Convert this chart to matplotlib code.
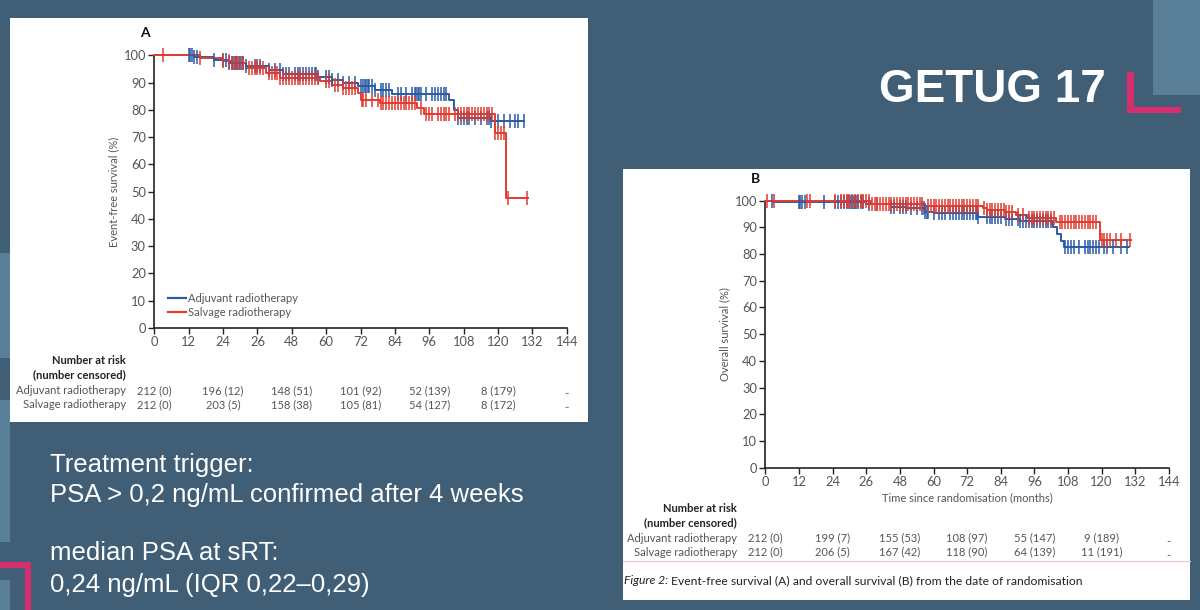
import numpy as np
import matplotlib
matplotlib.use("Agg")
import matplotlib.pyplot as plt
from matplotlib.patches import Rectangle
from matplotlib.lines import Line2D

# ---- data ----
ticks_x = [0, 12, 24, 36, 48, 60, 72, 84, 96, 108, 120, 132, 144]
ticks_x_labels = ["0", "12", "24", "26", "48", "60", "72", "84", "96", "108", "120", "132", "144"]
ticks_y = [0, 10, 20, 30, 40, 50, 60, 70, 80, 90, 100]

# panel A: event-free survival
efs_adj_t = [0, 14, 21, 26, 32, 40, 45, 57, 62, 66, 71, 77, 83, 103, 104.6, 106, 117.5, 129]
efs_adj_s = [100, 99.3, 98.4, 97.0, 96.0, 94.7, 93.2, 91.9, 91.0, 89.9, 88.6, 87.4, 85.8, 83.7, 80.1, 77.0, 75.8, 75.8]
efs_adj_cens = [12, 12.5, 13, 14, 15, 21, 24, 25, 26, 27, 27.5, 28, 28.5, 29, 29.5, 30, 30.5, 31, 32,
                35, 36, 37, 40, 42, 44, 45, 46, 47, 49, 50, 51, 52, 53, 54, 55, 56, 56.5, 57,
                60, 61, 62, 64, 66, 68, 70, 72, 73, 73.5, 74, 74.5, 75, 76, 77, 79, 80, 81, 82,
                85, 86, 88, 90, 91, 91.5, 92, 92.5, 93, 95, 97, 98, 99, 100, 101, 102,
                106, 107, 108, 109, 110, 112, 114, 116, 117, 117.5, 120, 122, 124, 126, 127, 129]
efs_sal_t = [0, 16, 24, 27, 32, 39, 44, 58, 62, 66, 71, 72.3, 78.8, 91.7, 94.3, 118.8, 122.7, 130.4]
efs_sal_s = [100, 99.0, 98.0, 97.2, 95.4, 93.5, 91.7, 90.5, 89.2, 88.0, 86.2, 83.7, 82.5, 80.7, 78.5, 71.5, 47.7, 47.7]
efs_sal_cens = [3, 16, 24, 26, 27, 28, 29, 30, 31, 33, 34, 35, 36, 37, 38, 40, 41, 42, 43, 44, 45,
                46, 47, 48, 49, 50, 51, 52, 53, 54, 55, 56, 57, 60, 61, 63, 64, 66, 67, 68, 69, 70,
                72.5, 73, 74, 76, 78, 79, 80, 81, 82, 83, 84, 85, 86, 87, 88, 89, 90, 91, 93,
                95, 96, 97, 99, 100, 101, 102, 103, 105, 106, 107, 108, 109, 110, 111, 112, 113,
                114, 115, 116, 117, 118, 119, 120, 121, 122, 123.5, 130]

# panel B: overall survival
os_adj_t = [0, 2.6, 36, 45, 50.6, 57, 60, 76, 85.6, 90.8, 102.5, 104, 105.5, 106.4, 129.7]
os_adj_s = [100, 99.4, 98.6, 97.7, 97.1, 95.9, 95.3, 94.0, 93.1, 92.4, 90.0, 87.5, 85.0, 82.8, 82.8]
os_adj_cens = [2.5, 12, 12.5, 13, 14, 21, 25, 26, 27, 28, 29, 30, 30.5, 31, 31.5, 32, 32.5, 33, 34,
               35, 37, 40, 45, 46, 48, 49, 50, 52, 54, 56, 56.5, 57, 57.5, 58, 60, 62, 63, 64, 66,
               67, 68, 69, 70, 71, 72, 73, 74, 75, 75.5, 76, 79, 80, 81, 82, 83, 84, 86, 87, 88,
               90, 91, 92, 93, 94, 95, 96, 97, 98, 99, 100, 101, 102, 107, 108, 109, 110, 112,
               114, 115, 116, 117, 118, 119, 121, 122, 124, 127, 129]
os_sal_t = [0, 37.6, 57, 77.8, 79, 85.6, 89.5, 93.4, 103.8, 119.4, 130.4]
os_sal_s = [99.8, 98.7, 98.1, 97.1, 96.5, 95.9, 94.6, 93.4, 92.1, 85.3, 85.3]
os_sal_cens = [0.5, 3, 15, 16, 25, 27, 28, 29, 30, 31, 32, 33, 34, 35, 36, 37, 38, 39, 40, 41, 42,
               43, 44, 45, 46, 47, 48, 49, 50, 51, 52, 53, 54, 55, 56, 58, 59, 60, 61, 62, 63, 64,
               65, 66, 67, 68, 69, 70, 71, 72, 73, 74, 75, 76, 78, 79, 80, 81, 82, 83, 84, 85, 86,
               87, 88, 90, 92, 94, 95, 96, 97, 98, 99, 100, 101, 102, 103, 105, 106, 107, 108,
               109, 110, 111, 112, 113, 114, 115, 116, 117, 118, 120, 121, 122, 123, 125, 127, 130]

risk_times = [0, 24, 48, 72, 96, 120, 144]
risk_a_adj = ["212 (0)", "196 (12)", "148 (51)", "101 (92)", "52 (139)", "8 (179)", ".."]
risk_a_sal = ["212 (0)", "203 (5)", "158 (38)", "105 (81)", "54 (127)", "8 (172)", ".."]
risk_b_adj = ["212 (0)", "199 (7)", "155 (53)", "108 (97)", "55 (147)", "9 (189)", ".."]
risk_b_sal = ["212 (0)", "206 (5)", "167 (42)", "118 (90)", "64 (139)", "11 (191)", ".."]

# ---- styling ----
BG = "#405E75"
LIGHT = "#5A7F98"
PINK = "#D62D6E"
BLUE = "#2B5BA6"
RED = "#E23B30"
GREY = "#555555"
FONT = "Lato"

W, H = 1200, 610
fig = plt.figure(figsize=(12, 6.1), dpi=100)
fig.patch.set_facecolor(BG)

bg = fig.add_axes([0, 0, 1, 1])
bg.set_xlim(0, W)
bg.set_ylim(H, 0)
bg.axis("off")

def rect(x0, y0, x1, y1, color, z=1, **kw):
    bg.add_patch(Rectangle((x0, y0), x1 - x0, y1 - y0, facecolor=color, edgecolor="none", zorder=z, **kw))

# decorations
rect(0, 253, 10, 358, LIGHT)
rect(0, 400, 10, 542, LIGHT)
rect(0, 580, 10, 610, LIGHT)
rect(1153, 0, 1200, 95, LIGHT)
rect(1127, 72, 1134, 113, PINK)
rect(1127, 107, 1181, 113, PINK)
rect(0, 562, 31, 568, PINK)
rect(25, 562, 31, 610, PINK)

# white panels
rect(10, 18, 588, 422, "white", z=2)
rect(623, 169, 1190, 600, "white", z=2)
bg.plot([623, 1190], [561, 561], color="#E6C4D0", lw=0.8, zorder=3)

# slide text
bg.text(879, 90, "GETUG 17", color="white", fontsize=33, fontweight="bold",
        family="Liberation Sans", va="center", ha="left", zorder=3)
for y, s in [(465, "Treatment trigger:"), (495, "PSA > 0,2 ng/mL confirmed after 4 weeks"),
             (553, "median PSA at sRT:"), (585, "0,24 ng/mL (IQR 0,22\u20130,29)")]:
    bg.text(50, y, s, color="white", fontsize=18.5, family="Liberation Sans",
            va="center", ha="left", zorder=3)


def px_axes(x0, y0, x1, y1):
    return fig.add_axes([x0 / W, 1 - y1 / H, (x1 - x0) / W, (y1 - y0) / H])


def km_panel(ax, curves, ylabel, letter):
    ax.set_facecolor("none")
    ax.set_xlim(0, 144)
    ax.set_ylim(0, 100)
    for t, s, cens, col in curves:
        t = np.asarray(t)
        s = np.asarray(s)
        ax.step(t, s, where="post", color=col, lw=1.4, clip_on=False, zorder=3)
        c = np.asarray(cens)
        idx = np.searchsorted(t, c, side="right") - 1
        ax.plot(c, s[idx], ls="none", marker="|", ms=9.5, mew=1.1, color=col,
                clip_on=False, zorder=4)
    for sp in ["top", "right"]:
        ax.spines[sp].set_visible(False)
    for sp in ["left", "bottom"]:
        ax.spines[sp].set_color("#222222")
        ax.spines[sp].set_linewidth(1.2)
    ax.set_xticks(ticks_x)
    ax.set_xticklabels(ticks_x_labels)
    ax.set_yticks(ticks_y)
    ax.tick_params(direction="out", length=4, width=1, color="#222222",
                   labelsize=9.3, labelcolor=GREY, pad=2)
    for lab in ax.get_xticklabels() + ax.get_yticklabels():
        lab.set_family(FONT)
    ax.set_ylabel(ylabel, fontsize=8, color=GREY, family=FONT, labelpad=3)
    ax.text(-0.035, 1.08, letter, transform=ax.transAxes, fontsize=10,
            color="#111111", family=FONT, fontweight="bold", ha="left", va="center")


# panel A
axA = px_axes(154.3, 55.3, 566.8, 328)
km_panel(axA, [(efs_adj_t, efs_adj_s, efs_adj_cens, BLUE),
               (efs_sal_t, efs_sal_s, efs_sal_cens, RED)],
         "Event-free survival (%)", "A")
handles = [Line2D([], [], color=BLUE, lw=1.6), Line2D([], [], color=RED, lw=1.6)]
axA.legend(handles, ["Adjuvant radiotherapy", "Salvage radiotherapy"], loc="lower left",
           bbox_to_anchor=(0.01, 0.0), frameon=False, handlelength=1.6, handletextpad=0.2,
           labelspacing=0.25, prop={"family": FONT, "size": 8}, labelcolor=GREY)

# panel B
axB = px_axes(765.4, 200.7, 1168.9, 467.7)
km_panel(axB, [(os_adj_t, os_adj_s, os_adj_cens, BLUE),
               (os_sal_t, os_sal_s, os_sal_cens, RED)],
         "Overall survival (%)", "B")
axB.set_xlabel("Time since randomisation (months)", fontsize=8, color=GREY,
               family=FONT, labelpad=3)


def risk_table(ax, label_x, y_head, y1, y2, row1, row2):
    bg.text(label_x, y_head, "Number at risk", ha="right", va="center", fontsize=8,
            family=FONT, color="#222222", fontweight="bold", zorder=3)
    bg.text(label_x, y_head + 14, "(number censored)", ha="right", va="center", fontsize=8,
            family=FONT, color="#222222", fontweight="bold", zorder=3)
    bg.text(label_x, y1, "Adjuvant radiotherapy", ha="right", va="center", fontsize=8,
            family=FONT, color=GREY, zorder=3)
    bg.text(label_x, y2, "Salvage radiotherapy", ha="right", va="center", fontsize=8,
            family=FONT, color=GREY, zorder=3)
    x0, x1 = ax.get_position().x0 * W, ax.get_position().x1 * W
    for t, a, b in zip(risk_times, row1, row2):
        xp = x0 + (x1 - x0) * t / 144
        bg.text(xp, y1, a, ha="center", va="center", fontsize=8, family=FONT, color=GREY, zorder=3)
        bg.text(xp, y2, b, ha="center", va="center", fontsize=8, family=FONT, color=GREY, zorder=3)


risk_table(axA, 126, 361, 391, 405, risk_a_adj, risk_a_sal)
risk_table(axB, 737, 509, 538, 552, risk_b_adj, risk_b_sal)

# caption
fig.canvas.draw()
cap1 = bg.text(624, 581, "Figure 2:", ha="left", va="center", fontsize=8.7, family=FONT,
               style="italic", color="#222222", zorder=3)
ext = cap1.get_window_extent(fig.canvas.get_renderer())
xd = bg.transData.inverted().transform((ext.x1, 0))[0]
bg.text(xd + 3, 581, "Event-free survival (A) and overall survival (B) from the date of randomisation",
        ha="left", va="center", fontsize=8.7, family=FONT, color="#222222", zorder=3)

fig.savefig("out.png", dpi=100, facecolor=BG)
